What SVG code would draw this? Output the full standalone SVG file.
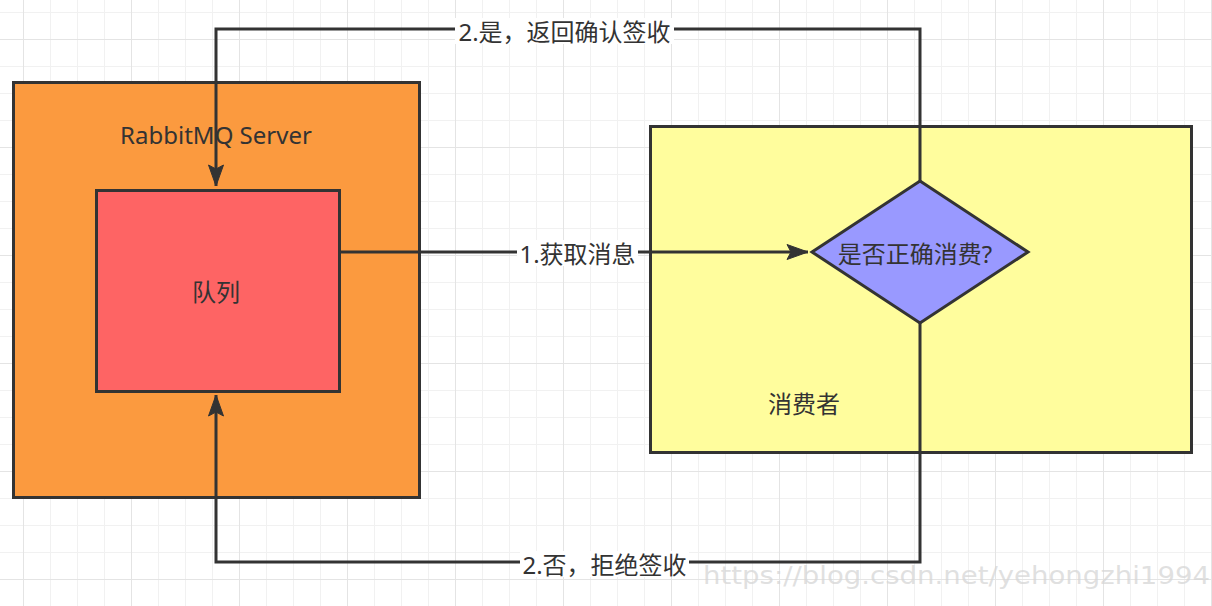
<svg xmlns="http://www.w3.org/2000/svg" width="1212" height="606" viewBox="0 0 1212 606">
  <defs>
    <pattern id="grid" patternUnits="userSpaceOnUse" x="23" y="39" width="108" height="108">
      <rect x="27" y="0" width="1" height="108" fill="#f1f1f1"/>
      <rect x="54" y="0" width="1" height="108" fill="#f1f1f1"/>
      <rect x="81" y="0" width="1" height="108" fill="#f1f1f1"/>
      <rect x="0" y="27" width="108" height="1" fill="#f1f1f1"/>
      <rect x="0" y="54" width="108" height="1" fill="#f1f1f1"/>
      <rect x="0" y="81" width="108" height="1" fill="#f1f1f1"/>
      <rect x="0" y="0" width="1" height="108" fill="#e4e4e4"/>
      <rect x="0" y="0" width="108" height="1" fill="#e4e4e4"/>
    </pattern>
    <marker id="arrow" markerUnits="userSpaceOnUse" markerWidth="24" markerHeight="18" viewBox="-22 -9 24 18" refX="0" refY="0" orient="auto">
      <path d="M0,0 L-21,-7.5 L-17,0 L-21,7.5 Z" fill="#333333" stroke="#333333" stroke-width="1" stroke-linejoin="miter"/>
    </marker>
    <style>
      .box { stroke: #333333; stroke-width: 3; }
      .txt { font-family: "Noto Sans", "Noto Sans CJK SC", sans-serif; font-size: 24px; fill: #333333; text-anchor: middle; dominant-baseline: central; }
      .edge { fill: none; stroke: #333333; stroke-width: 3; }
      .lblbg { fill: #ffffff; }
    </style>
  </defs>

  <rect x="0" y="0" width="1212" height="606" fill="#ffffff"/>
  <rect x="0" y="0" width="1212" height="606" fill="url(#grid)"/>

  <g id="rabbitmq-server">
    <rect class="box" x="13.5" y="82.5" width="406" height="415" fill="#FB9A3F"/>
    <text class="txt" x="216" y="134">RabbitMQ Server</text>
  </g>

  <g id="queue">
    <rect class="box" x="96.5" y="190.5" width="243" height="201" fill="#FE6464"/>
    <text class="txt" x="216" y="291">队列</text>
  </g>

  <g id="consumer">
    <rect class="box" x="650.5" y="126.5" width="541" height="326" fill="#FFFD9D"/>
    <text class="txt" x="804" y="403">消费者</text>
  </g>

  <g id="decision">
    <polygon class="box" points="920,181 1028,252 920,323 812,252" fill="#9999FF" stroke-linejoin="miter"/>
    <text class="txt" x="915" y="253">是否正确消费?</text>
  </g>

  <g id="connectors">
    <g id="edge-fetch">
      <path class="edge" d="M340,252 H808" marker-end="url(#arrow)"/>
      <rect class="lblbg" x="517" y="240" width="121" height="26"/>
      <text class="txt" x="577.5" y="253">1.获取消息</text>
    </g>
    <g id="edge-ack">
      <path class="edge" d="M920,181 V29 H216 V186" marker-end="url(#arrow)"/>
      <rect class="lblbg" x="455" y="18" width="219" height="26"/>
      <text class="txt" x="564.5" y="31">2.是，返回确认签收</text>
    </g>
    <g id="edge-reject">
      <path class="edge" d="M920,323 V562 H216 V395" marker-end="url(#arrow)"/>
      <rect class="lblbg" x="520" y="551" width="169" height="26"/>
      <text class="txt" x="604.5" y="564">2.否，拒绝签收</text>
    </g>
  </g>

  <text x="703" y="584" font-family="DejaVu Sans, sans-serif" font-size="25" fill="#d6d6d6" fill-opacity="0.75" textLength="507" lengthAdjust="spacingAndGlyphs">https://blog.csdn.net/yehongzhi1994</text>
</svg>
